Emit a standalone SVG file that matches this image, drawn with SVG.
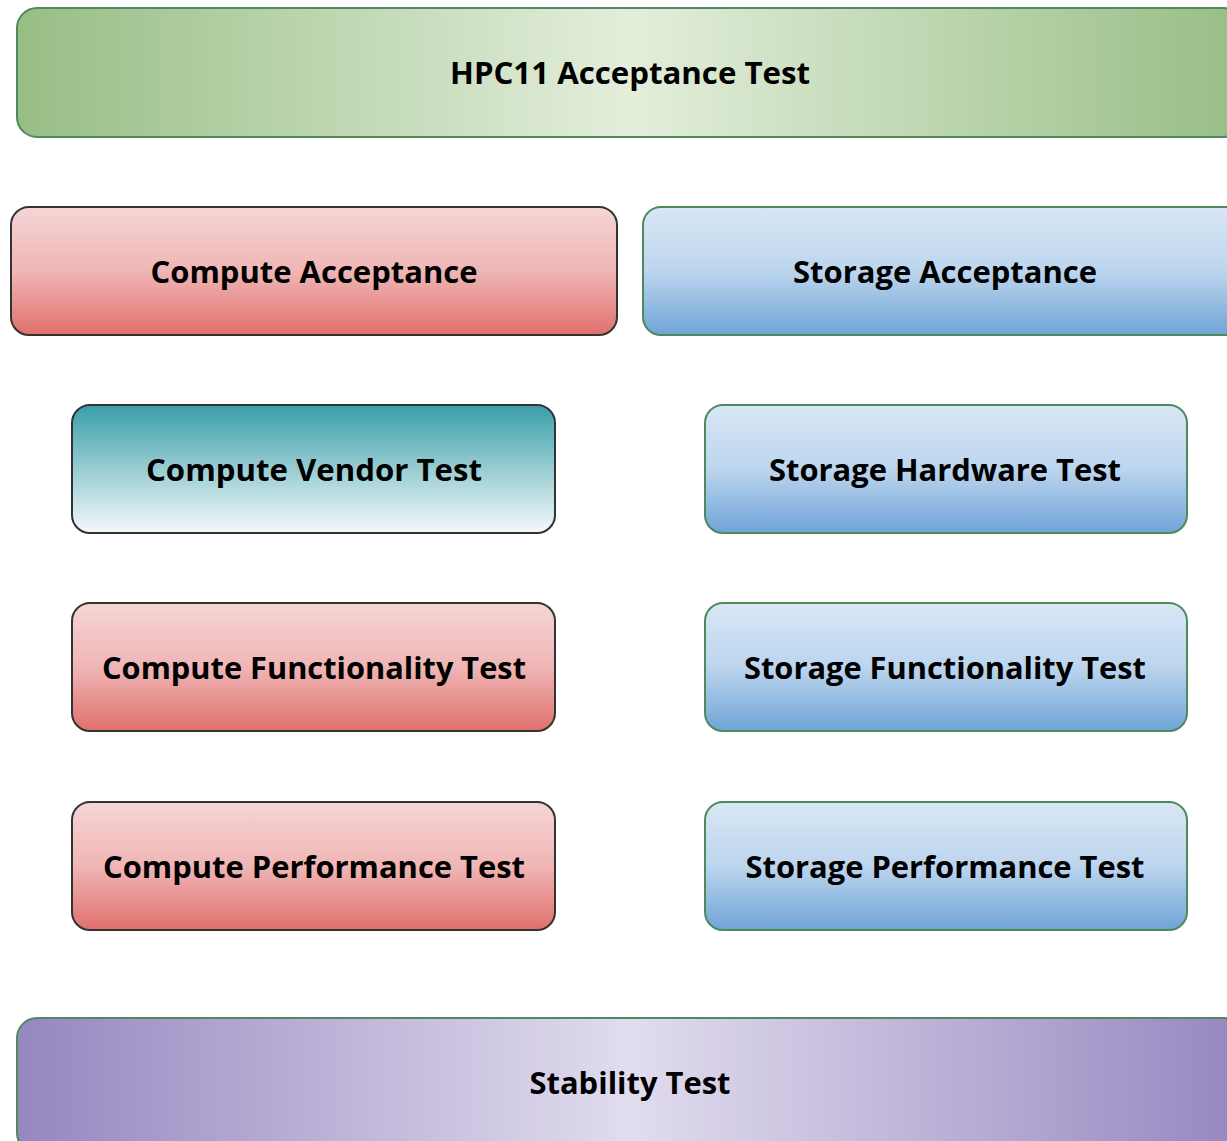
<svg xmlns="http://www.w3.org/2000/svg" width="1227" height="1141" viewBox="0 0 1227 1141">
<defs>
<linearGradient id="gGreen" x1="0" y1="0" x2="1" y2="0">
<stop offset="0" stop-color="#97be85"/>
<stop offset="0.5" stop-color="#e3eedb"/>
<stop offset="1" stop-color="#97be85"/>
</linearGradient>
<linearGradient id="gPurple" x1="0" y1="0" x2="1" y2="0">
<stop offset="0" stop-color="#9687c0"/>
<stop offset="0.5" stop-color="#e1dcee"/>
<stop offset="1" stop-color="#9687c0"/>
</linearGradient>
<linearGradient id="gRed" x1="0" y1="0" x2="0" y2="1">
<stop offset="0" stop-color="#f6d5d5"/>
<stop offset="0.5" stop-color="#efb6b5"/>
<stop offset="1" stop-color="#e0706c"/>
</linearGradient>
<linearGradient id="gBlue" x1="0" y1="0" x2="0" y2="1">
<stop offset="0" stop-color="#d9e7f5"/>
<stop offset="0.5" stop-color="#bcd5ee"/>
<stop offset="1" stop-color="#6fa4d6"/>
</linearGradient>
<linearGradient id="gTeal" x1="0" y1="0" x2="0" y2="1">
<stop offset="0" stop-color="#3a9ea9"/>
<stop offset="0.5" stop-color="#98cdd2"/>
<stop offset="1" stop-color="#f4f9fa"/>
</linearGradient>
</defs>
<style>
.lbl{font-family:"Open Sans","Noto Sans","Liberation Sans",sans-serif;font-weight:bold;font-size:30px;fill:#000;text-anchor:middle}
.sg{stroke:#4e8a5e;stroke-width:2}
.sd{stroke:#333;stroke-width:2}
</style>
<rect width="1227" height="1141" fill="#fff"/>
<g id="connectors"/>
<g id="hpc11">
<rect class="sg" x="17" y="8" width="1226" height="129" rx="20" fill="url(#gGreen)"/>
<text class="lbl" x="630" y="84" textLength="360" lengthAdjust="spacingAndGlyphs">HPC11 Acceptance Test</text>
</g>
<g id="compute-acceptance">
<rect class="sd" x="11" y="207" width="606" height="128" rx="18" fill="url(#gRed)"/>
<text class="lbl" x="314" y="283" textLength="327" lengthAdjust="spacingAndGlyphs">Compute Acceptance</text>
</g>
<g id="storage-acceptance">
<rect class="sg" x="643" y="207" width="604" height="128" rx="18" fill="url(#gBlue)"/>
<text class="lbl" x="945" y="283" textLength="304" lengthAdjust="spacingAndGlyphs">Storage Acceptance</text>
</g>
<g id="compute-vendor">
<rect class="sd" x="72" y="405" width="483" height="128" rx="18" fill="url(#gTeal)"/>
<text class="lbl" x="314" y="481" textLength="336" lengthAdjust="spacingAndGlyphs">Compute Vendor Test</text>
</g>
<g id="storage-hardware">
<rect class="sg" x="705" y="405" width="482" height="128" rx="18" fill="url(#gBlue)"/>
<text class="lbl" x="945" y="481" textLength="352" lengthAdjust="spacingAndGlyphs">Storage Hardware Test</text>
</g>
<g id="compute-functionality">
<rect class="sd" x="72" y="603" width="483" height="128" rx="18" fill="url(#gRed)"/>
<text class="lbl" x="314" y="679" textLength="424" lengthAdjust="spacingAndGlyphs">Compute Functionality Test</text>
</g>
<g id="storage-functionality">
<rect class="sg" x="705" y="603" width="482" height="128" rx="18" fill="url(#gBlue)"/>
<text class="lbl" x="945" y="679" textLength="402" lengthAdjust="spacingAndGlyphs">Storage Functionality Test</text>
</g>
<g id="compute-performance">
<rect class="sd" x="72" y="802" width="483" height="128" rx="18" fill="url(#gRed)"/>
<text class="lbl" x="314" y="878" textLength="422" lengthAdjust="spacingAndGlyphs">Compute Performance Test</text>
</g>
<g id="storage-performance">
<rect class="sg" x="705" y="802" width="482" height="128" rx="18" fill="url(#gBlue)"/>
<text class="lbl" x="945" y="878" textLength="399" lengthAdjust="spacingAndGlyphs">Storage Performance Test</text>
</g>
<g id="stability">
<rect class="sg" x="17" y="1018" width="1226" height="135" rx="20" fill="url(#gPurple)"/>
<text class="lbl" x="630" y="1094" textLength="201" lengthAdjust="spacingAndGlyphs">Stability Test</text>
</g>
</svg>
